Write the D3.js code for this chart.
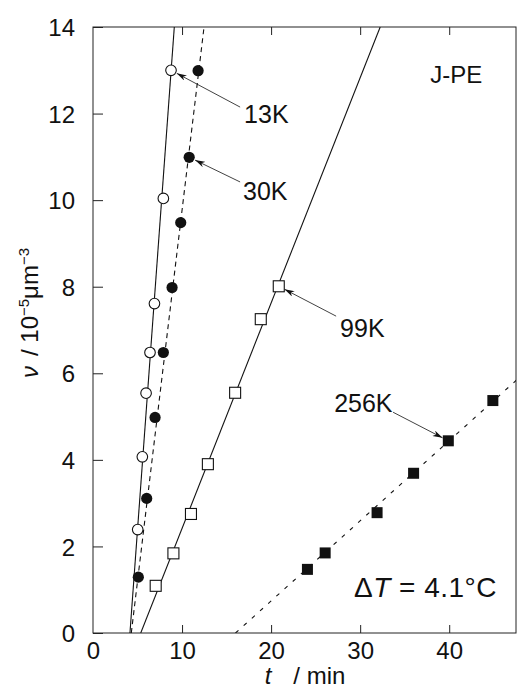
<!DOCTYPE html>
<html>
<head>
<meta charset="utf-8">
<script src="https://cdn.jsdelivr.net/npm/d3@7"></script>
<style>
  body { margin: 0; background: #fff; }
  text { font-family: "Liberation Sans", Arial, sans-serif; fill: #111; }
</style>
</head>
<body>
<div id="chart"></div>
<script>
// axis ticks
var xTicks = [0, 10, 20, 30, 40];
var yTicks = [0, 2, 4, 6, 8, 10, 12, 14];

// 13K : open circles
var k13T = [8.76, 7.9, 6.9, 6.4, 5.96, 5.54, 5.02];
var k13V = [13.0, 10.04, 7.61, 6.48, 5.54, 4.07, 2.39];
// 30K : filled circles
var k30T = [11.8, 10.8, 9.85, 8.88, 7.9, 6.97, 6.03, 5.09];
var k30V = [12.99, 10.99, 9.48, 7.98, 6.48, 4.98, 3.11, 1.29];
// 99K : open squares
var k99T = [7.04, 9.03, 11.0, 12.9, 15.96, 18.84, 20.86];
var k99V = [1.09, 1.84, 2.75, 3.9, 5.55, 7.25, 8.01];
// 256K : filled squares
var k256T = [24.08, 26.07, 31.9, 36.0, 39.9, 44.9];
var k256V = [1.47, 1.85, 2.78, 3.69, 4.44, 5.37];

// fitted lines, end points [t, v]
var fit13 = [[4.15, 0], [9.13, 14]];
var fit30 = [[4.3, 0], [12.47, 14]];
var fit99 = [[5.36, 0], [32.25, 14]];
var fit256 = [[16.0, 0], [47.6, 5.85]];

// annotations
var annLabels = ["13K", "30K", "99K", "256K"];
var annTextT = [16.97, 16.85, 27.75, 27.08];
var annTextV = [11.78, 10.0, 6.84, 5.10];
var annFromT = [16.52, 16.52, 27.3, 33.7];
var annFromV = [12.15, 10.42, 7.32, 5.10];
var annToT = [8.76, 10.8, 20.86, 39.9];
var annToV = [13.0, 10.99, 8.01, 4.44];

var W = 518, H = 688;
var svg = d3.select("#chart").append("svg")
  .attr("width", W)
  .attr("height", H);

var x = d3.scaleLinear().domain([0, 47.5]).range([93, 516]);
var y = d3.scaleLinear().domain([0, 14]).range([633, 27]);

svg.append("defs").append("clipPath").attr("id", "plot")
  .append("rect")
  .attr("x", x(0)).attr("y", y(14))
  .attr("width", x(47.5) - x(0)).attr("height", y(0) - y(14));

svg.select("defs").append("marker")
  .attr("id", "arr")
  .attr("viewBox", "0 0 10 6")
  .attr("refX", 10).attr("refY", 3)
  .attr("markerWidth", 10).attr("markerHeight", 6)
  .attr("markerUnits", "userSpaceOnUse")
  .attr("orient", "auto")
  .append("path")
  .attr("d", "M0,0 L10,3 L0,6 L3,3 Z")
  .attr("fill", "#111");

// frame
svg.append("rect")
  .attr("x", x(0)).attr("y", y(14))
  .attr("width", x(47.5) - x(0)).attr("height", y(0) - y(14))
  .attr("fill", "none").attr("stroke", "#222").attr("stroke-width", 1);

// axes with inward ticks
var xAxis = svg.append("g")
  .attr("transform", "translate(0," + y(0) + ")")
  .call(d3.axisBottom(x).tickValues(xTicks).tickSize(-8).tickPadding(9));
var xTop = svg.append("g")
  .attr("transform", "translate(0," + y(14) + ")")
  .call(d3.axisTop(x).tickValues(xTicks).tickSize(-8).tickFormat(""));
var yAxis = svg.append("g")
  .attr("transform", "translate(" + x(0) + ",0)")
  .call(d3.axisLeft(y).tickValues(yTicks).tickSize(-10).tickPadding(18));

[xAxis, xTop, yAxis].forEach(function(g) {
  g.select(".domain").remove();
  g.selectAll(".tick line").attr("stroke", "#222");
  g.selectAll(".tick text")
    .style("font-size", "24px")
    .style("font-family", "'Liberation Sans', Arial, sans-serif")
    .attr("fill", "#111");
});
xTop.selectAll(".tick").filter(function(d) { return d === 0; }).remove();
xAxis.selectAll(".tick line").filter(function(d) { return d === 0; }).remove();
yAxis.selectAll(".tick text").attr("dy", "0.36em");

// fitted lines
var line = d3.line().x(function(d) { return x(d[0]); }).y(function(d) { return y(d[1]); });
var lines = svg.append("g").attr("clip-path", "url(#plot)");
lines.append("path").attr("d", line(fit13)).attr("fill", "none").attr("stroke", "#111").attr("stroke-width", 1.1);
lines.append("path").attr("d", line(fit30)).attr("fill", "none").attr("stroke", "#111").attr("stroke-width", 1.1)
  .attr("stroke-dasharray", "5,4");
lines.append("path").attr("d", line(fit99)).attr("fill", "none").attr("stroke", "#111").attr("stroke-width", 1.1);
lines.append("path").attr("d", line(fit256)).attr("fill", "none").attr("stroke", "#111").attr("stroke-width", 1.1)
  .attr("stroke-dasharray", "4,7");

// markers
function pts(ts, vs) { return ts.map(function(t, i) { return [t, vs[i]]; }); }

svg.append("g").selectAll("circle").data(pts(k13T, k13V)).enter().append("circle")
  .attr("cx", function(d) { return x(d[0]); }).attr("cy", function(d) { return y(d[1]); })
  .attr("r", 5.3).attr("fill", "#fff").attr("stroke", "#111").attr("stroke-width", 1.1);
svg.append("g").selectAll("circle").data(pts(k30T, k30V)).enter().append("circle")
  .attr("cx", function(d) { return x(d[0]); }).attr("cy", function(d) { return y(d[1]); })
  .attr("r", 5.6).attr("fill", "#111");
svg.append("g").selectAll("rect").data(pts(k99T, k99V)).enter().append("rect")
  .attr("x", function(d) { return x(d[0]) - 5.5; }).attr("y", function(d) { return y(d[1]) - 5.5; })
  .attr("width", 11).attr("height", 11)
  .attr("fill", "#fff").attr("stroke", "#111").attr("stroke-width", 1.1);
svg.append("g").selectAll("rect").data(pts(k256T, k256V)).enter().append("rect")
  .attr("x", function(d) { return x(d[0]) - 5.5; }).attr("y", function(d) { return y(d[1]) - 5.5; })
  .attr("width", 11).attr("height", 11)
  .attr("fill", "#111");

// annotation arrows and labels
var ann = svg.append("g");
annLabels.forEach(function(lab, i) {
  var x1 = x(annFromT[i]), y1 = y(annFromV[i]);
  var x2 = x(annToT[i]), y2 = y(annToV[i]);
  var dx = x2 - x1, dy = y2 - y1, len = Math.sqrt(dx * dx + dy * dy);
  var cut = 6.5;
  ann.append("line")
    .attr("x1", x1).attr("y1", y1)
    .attr("x2", x2 - dx / len * cut).attr("y2", y2 - dy / len * cut)
    .attr("stroke", "#111").attr("stroke-width", 0.8)
    .attr("marker-end", "url(#arr)");
  ann.append("text")
    .attr("x", x(annTextT[i])).attr("y", y(annTextV[i]))
    .style("font-size", "25px")
    .text(lab);
});

svg.append("text")
  .attr("x", x(37.87)).attr("y", y(12.70))
  .style("font-size", "24px")
  .text("J-PE");

var dT = svg.append("text")
  .attr("x", x(29.3)).attr("y", y(0.83))
  .style("font-size", "28px")
  .style("letter-spacing", "0.5px");
dT.append("tspan").text("\u0394");
dT.append("tspan").style("font-style", "italic").text("T");
dT.append("tspan").text(" = 4.1\u00B0C");

// axis titles
var xt = svg.append("text")
  .attr("x", 305).attr("y", 684)
  .attr("text-anchor", "middle")
  .style("font-size", "24px");
xt.append("tspan").style("font-style", "italic").text("t");
xt.append("tspan").attr("dx", 22).text("/ min");

var yt = svg.append("text")
  .attr("transform", "translate(38,313) rotate(-90)")
  .attr("text-anchor", "middle")
  .style("font-size", "24px");
yt.append("tspan").style("font-style", "italic").text("\u03BD");
yt.append("tspan").attr("dx", 10).text("/ 10");
yt.append("tspan").attr("dy", -9).style("font-size", "15px").text("\u22125");
yt.append("tspan").attr("dy", 9).text("\u03BCm");
yt.append("tspan").attr("dy", -9).style("font-size", "15px").text("\u22123");
</script>
</body>
</html>
